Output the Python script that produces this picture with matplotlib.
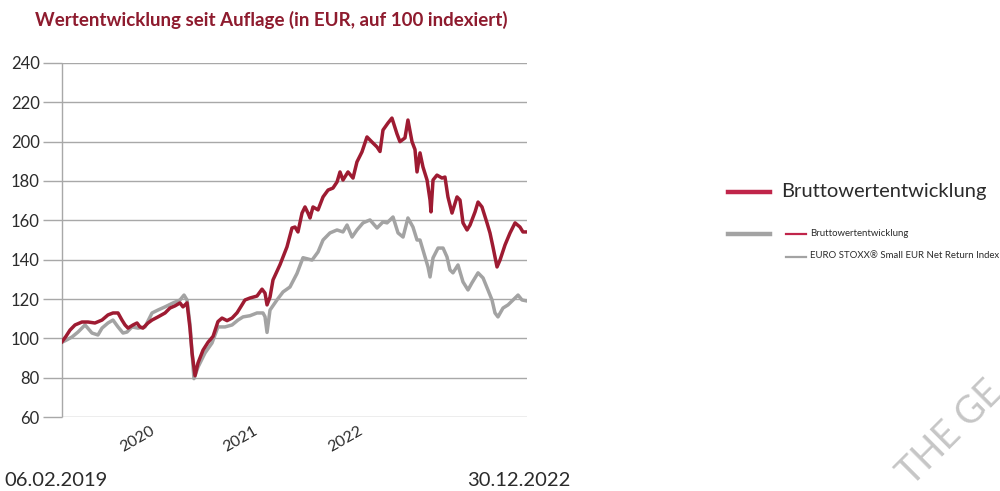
import matplotlib
matplotlib.use("Agg")
import matplotlib.pyplot as plt
from matplotlib.lines import Line2D

# ---------------- data ----------------
title = "Wertentwicklung seit Auflage (in EUR, auf 100 indexiert)"
start_label = "06.02.2019"
end_label = "30.12.2022"
year_labels = ["2020", "2021", "2022"]
year_label_pos = [2019.729, 2020.592, 2021.471]
y_ticks = [60, 80, 100, 120, 140, 160, 180, 200, 220, 240]
x_start, x_end = 2019.101, 2022.995

fund_name = "Bruttowertentwicklung"
index_name = "EURO STOXX® Small EUR Net Return Index"
watermark = "THE GE"

fund_t = [2019.101, 2019.134, 2019.168, 2019.210, 2019.268, 2019.319, 2019.377, 2019.436,
          2019.486, 2019.528, 2019.570, 2019.603, 2019.629, 2019.654, 2019.696, 2019.729,
          2019.754, 2019.779, 2019.821, 2019.855, 2019.905, 2019.964, 2020.005, 2020.047,
          2020.089, 2020.114, 2020.148, 2020.173, 2020.190, 2020.215, 2020.240, 2020.282,
          2020.324, 2020.366, 2020.407, 2020.441, 2020.483, 2020.525, 2020.567, 2020.608,
          2020.633, 2020.675, 2020.734, 2020.776, 2020.801, 2020.818, 2020.843, 2020.868,
          2020.927, 2020.985, 2021.027, 2021.052, 2021.077, 2021.111, 2021.136, 2021.161,
          2021.178, 2021.203, 2021.245, 2021.287, 2021.329, 2021.370, 2021.404, 2021.429,
          2021.454, 2021.496, 2021.538, 2021.571, 2021.613, 2021.655, 2021.697, 2021.739,
          2021.764, 2021.789, 2021.831, 2021.864, 2021.906, 2021.931, 2021.973, 2021.998,
          2022.032, 2022.057, 2022.074, 2022.099, 2022.124, 2022.158, 2022.183, 2022.191,
          2022.208, 2022.241, 2022.283, 2022.308, 2022.333, 2022.367, 2022.409, 2022.434,
          2022.459, 2022.493, 2022.518, 2022.560, 2022.585, 2022.618, 2022.660, 2022.685,
          2022.710, 2022.744, 2022.769, 2022.811, 2022.853, 2022.895, 2022.936, 2022.961,
          2022.995]
fund_v = [98.3, 101.0, 104.2, 106.8, 108.3, 108.3, 107.8, 109.3,
          111.9, 112.9, 112.9, 109.3, 106.8, 105.2, 106.8, 107.8,
          105.8, 105.2, 107.8, 109.3, 110.9, 112.9, 115.4, 116.5,
          118.0, 116.0, 118.0, 105.0, 92.6, 81.0, 87.5, 94.0,
          98.0, 101.0, 108.5, 110.3, 109.0, 110.3, 113.0, 117.0,
          119.5, 120.5, 121.5, 125.0, 123.0, 117.0, 121.0, 129.7,
          137.5, 146.5, 156.1, 156.6, 154.1, 163.7, 166.8, 163.7,
          161.2, 166.8, 165.3, 171.9, 175.4, 176.4, 179.5, 184.6,
          180.5, 184.6, 181.5, 189.7, 194.8, 202.4, 199.8, 197.3,
          195.0, 205.9, 209.5, 212.0, 204.0, 200.0, 201.9, 211.0,
          200.0, 196.0, 184.6, 194.3, 187.1, 180.5, 170.3, 164.3,
          180.5, 183.0, 181.5, 182.0, 171.9, 163.7, 171.9, 170.3,
          158.7, 155.1, 157.6, 164.3, 169.3, 166.8, 158.7, 153.6,
          146.5, 136.3, 139.8, 147.5, 153.6, 158.7, 156.6, 154.1,
          154.1]

index_t = [2019.101, 2019.134, 2019.185, 2019.235, 2019.294, 2019.352, 2019.402, 2019.436,
           2019.486, 2019.528, 2019.570, 2019.612, 2019.645, 2019.687, 2019.737, 2019.796,
           2019.855, 2019.905, 2019.964, 2020.031, 2020.089, 2020.123, 2020.148, 2020.173,
           2020.190, 2020.206, 2020.240, 2020.299, 2020.357, 2020.407, 2020.466, 2020.525,
           2020.575, 2020.617, 2020.675, 2020.734, 2020.784, 2020.801, 2020.818, 2020.843,
           2020.901, 2020.952, 2021.010, 2021.069, 2021.119, 2021.195, 2021.245, 2021.287,
           2021.345, 2021.404, 2021.454, 2021.488, 2021.530, 2021.571, 2021.622, 2021.680,
           2021.739, 2021.789, 2021.823, 2021.873, 2021.915, 2021.957, 2021.998, 2022.040,
           2022.074, 2022.099, 2022.141, 2022.166, 2022.183, 2022.208, 2022.250, 2022.292,
           2022.325, 2022.350, 2022.375, 2022.417, 2022.459, 2022.501, 2022.534, 2022.585,
           2022.627, 2022.668, 2022.702, 2022.727, 2022.752, 2022.794, 2022.836, 2022.878,
           2022.920, 2022.953, 2022.995]
index_v = [98.0, 99.0, 100.7, 103.2, 106.8, 102.7, 101.7, 105.2,
           107.8, 109.3, 105.8, 102.7, 103.2, 105.8, 105.2, 105.8,
           112.9, 114.4, 116.0, 118.0, 119.5, 122.0, 119.5, 107.0,
           92.6, 79.5, 85.4, 92.6, 97.6, 105.8, 105.8, 106.8,
           109.3, 110.9, 111.5, 112.9, 112.9, 111.0, 103.0, 114.4,
           119.5, 123.6, 126.1, 133.0, 141.0, 139.8, 143.9, 150.0,
           153.6, 155.1, 154.1, 157.6, 151.5, 155.1, 158.7, 160.2,
           156.1, 159.2, 158.7, 161.7, 153.6, 151.5, 161.2, 156.6,
           150.0, 150.0, 141.4, 136.3, 131.2, 140.9, 145.9, 145.9,
           141.4, 134.8, 133.3, 137.3, 128.7, 124.6, 128.2, 133.3,
           130.7, 124.6, 119.5, 112.9, 110.9, 115.4, 117.0, 119.5,
           122.0, 119.5, 119.0]

# ---------------- style ----------------
RED = "#9E1B32"
RED_LEG = "#C0254A"
GRAY = "#A3A3A3"
GRID = "#A8A8A8"
TXT = "#2b2b2b"
FONT = ["Lato", "DejaVu Sans"]
plt.rcParams["font.family"] = FONT

fig = plt.figure(figsize=(10, 4.91), dpi=100)
ax = fig.add_axes([0.062, 0.1507, 0.465, 0.721])

ax.plot(index_t, index_v, color=GRAY, lw=2.5, solid_joinstyle="round", zorder=3)
ax.plot(fund_t, fund_v, color=RED, lw=2.5, solid_joinstyle="round", zorder=4)

ax.set_xlim(x_start, x_end)
ax.set_ylim(60, 240)
ax.set_yticks(y_ticks)
ax.set_yticklabels([str(v) for v in y_ticks], fontsize=12, color=TXT)
ax.yaxis.grid(True, color=GRID, lw=1.0)
ax.set_axisbelow(True)
ax.tick_params(axis="y", length=14, width=1.0, color=GRID, pad=2)

ax.set_xticks(year_label_pos)
ax.set_xticklabels(year_labels, rotation=30, ha="center", fontsize=11.5, color=TXT)
ax.tick_params(axis="x", length=0, pad=5)

for s in ["top", "right", "bottom"]:
    ax.spines[s].set_visible(False)
ax.spines["left"].set_color(GRID)
ax.spines["left"].set_linewidth(1.0)
ax.spines["left"].set_capstyle("butt")

# title
fig.text(0.035, 1 - 20 / 491, title, fontsize=13.5, fontweight="bold", color="#8E1B2E",
         ha="left", va="center")

# start / end labels
fig.text(0.004, 1 - 481 / 491, start_label, fontsize=14.5, color=TXT, ha="left", va="center")
fig.text(0.467, 1 - 481 / 491, end_label, fontsize=14.5, color=TXT, ha="left", va="center")

# legend (as drawn in the reference)
fig.add_artist(Line2D([0.728, 0.770], [1 - 192 / 491] * 2, color=RED_LEG, lw=3.2,
                      transform=fig.transFigure))
fig.text(0.781, 1 - 191 / 491, fund_name, fontsize=14.5, color=TXT, ha="left", va="center")
fig.add_artist(Line2D([0.728, 0.770], [1 - 234 / 491] * 2, color=GRAY, lw=3.2,
                      transform=fig.transFigure))
fig.add_artist(Line2D([0.786, 0.806], [1 - 234 / 491] * 2, color=RED_LEG, lw=1.6,
                      transform=fig.transFigure))
fig.text(0.810, 1 - 233 / 491, fund_name, fontsize=6.9, color=TXT, ha="left", va="center")
fig.add_artist(Line2D([0.786, 0.806], [1 - 257 / 491] * 2, color=GRAY, lw=1.6,
                      transform=fig.transFigure))
fig.text(0.810, 1 - 256 / 491, index_name, fontsize=6.9, color=TXT, ha="left", va="center")

# watermark
fig.text(0.912, 1 - 487 / 491, watermark, fontsize=27, color="#C6C6C6", rotation=45,
         ha="left", va="baseline", rotation_mode="anchor")

fig.savefig("out.png", dpi=100, facecolor="white")
